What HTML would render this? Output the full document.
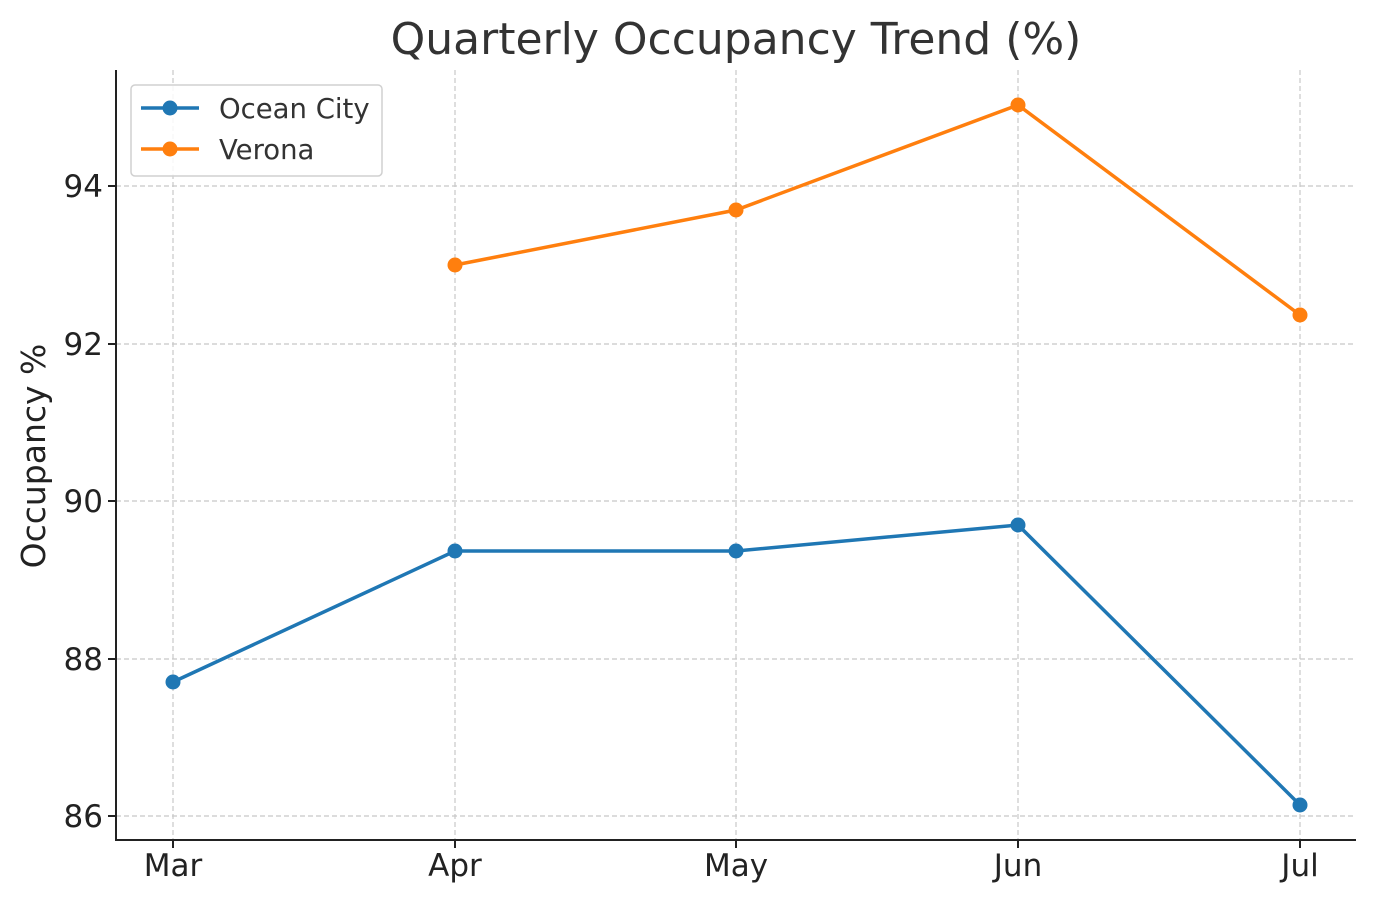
<!DOCTYPE html>
<html><head><meta charset="utf-8"><style>body{margin:0;background:#fff}svg{display:block}</style></head><body>
<svg width="1376" height="903" xmlns="http://www.w3.org/2000/svg" font-family="DejaVu Sans, Liberation Sans, sans-serif">
<rect width="1376" height="903" fill="#fff"/>
<g stroke="#c8c8c8" stroke-width="1.2" stroke-dasharray="5,3">
<line x1="173" y1="70" x2="173" y2="840"/><line x1="455" y1="70" x2="455" y2="840"/><line x1="736" y1="70" x2="736" y2="840"/><line x1="1018" y1="70" x2="1018" y2="840"/><line x1="1300" y1="70" x2="1300" y2="840"/>
<line x1="116" y1="186" x2="1356" y2="186"/><line x1="116" y1="344" x2="1356" y2="344"/><line x1="116" y1="501" x2="1356" y2="501"/><line x1="116" y1="659" x2="1356" y2="659"/><line x1="116" y1="816" x2="1356" y2="816"/>
</g>
<g stroke="#222" stroke-width="2"><line x1="116" y1="70" x2="116" y2="841"/><line x1="115" y1="840" x2="1356" y2="840"/>
<line x1="173" y1="840" x2="173" y2="848"/><line x1="455" y1="840" x2="455" y2="848"/><line x1="736" y1="840" x2="736" y2="848"/><line x1="1018" y1="840" x2="1018" y2="848"/><line x1="1300" y1="840" x2="1300" y2="848"/>
<line x1="108" y1="186" x2="116" y2="186"/><line x1="108" y1="344" x2="116" y2="344"/><line x1="108" y1="501" x2="116" y2="501"/><line x1="108" y1="659" x2="116" y2="659"/><line x1="108" y1="816" x2="116" y2="816"/></g>
<g font-size="31" fill="#222" text-anchor="middle">
<text x="173" y="876">Mar</text><text x="455" y="876">Apr</text><text x="736" y="876">May</text><text x="1018" y="876">Jun</text><text x="1300" y="876">Jul</text></g>
<g font-size="31" fill="#222" text-anchor="end">
<text x="103" y="197">94</text><text x="103" y="355">92</text><text x="103" y="512">90</text><text x="103" y="670">88</text><text x="103" y="827">86</text></g>
<text x="736" y="54" font-size="44" fill="#333" text-anchor="middle">Quarterly Occupancy Trend (%)</text>
<text transform="translate(45,456) rotate(-90)" font-size="33" fill="#222" text-anchor="middle">Occupancy %</text>
<polyline fill="none" stroke="#1f77b4" stroke-width="3.5" points="173,682 455,551 736,551 1018,525 1300,805"/>
<g fill="#1f77b4"><circle cx="173" cy="682" r="7.5"/><circle cx="455" cy="551" r="7.5"/><circle cx="736" cy="551" r="7.5"/><circle cx="1018" cy="525" r="7.5"/><circle cx="1300" cy="805" r="7.5"/></g>
<polyline fill="none" stroke="#ff7f0e" stroke-width="3.5" points="455,265 736,210 1018,105 1300,315"/>
<g fill="#ff7f0e"><circle cx="455" cy="265" r="7.5"/><circle cx="736" cy="210" r="7.5"/><circle cx="1018" cy="105" r="7.5"/><circle cx="1300" cy="315" r="7.5"/></g>
<rect x="131" y="85" width="251" height="91" rx="4" fill="#fff" fill-opacity="0.85" stroke="#d0d0d0" stroke-width="1.5"/>
<line x1="141" y1="108" x2="199" y2="108" stroke="#1f77b4" stroke-width="3.5"/><circle cx="170" cy="108" r="7.5" fill="#1f77b4"/>
<line x1="141" y1="149" x2="199" y2="149" stroke="#ff7f0e" stroke-width="3.5"/><circle cx="170" cy="149" r="7.5" fill="#ff7f0e"/>
<text x="219" y="118" font-size="27.5" fill="#333">Ocean City</text>
<text x="219" y="159" font-size="27.5" fill="#333">Verona</text>
</svg></body></html>
